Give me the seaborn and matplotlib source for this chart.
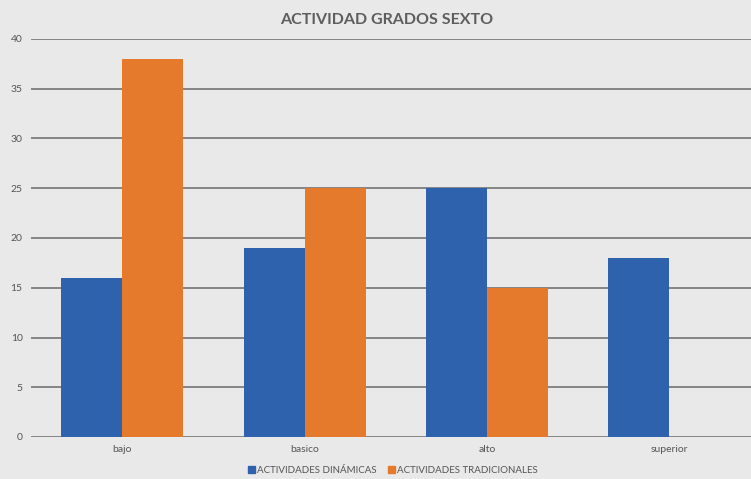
import numpy as np
import pandas as pd
import matplotlib
matplotlib.use("Agg")
import matplotlib.pyplot as plt
import seaborn as sns

categorias = ["bajo", "basico", "alto", "superior"]
dinamicas = [16, 19, 25, 18]
tradicionales = [38, 25, 15, 0]
series = ["ACTIVIDADES DINÁMICAS", "ACTIVIDADES TRADICIONALES"]
y_ticks = [0, 5, 10, 15, 20, 25, 30, 35, 40]

df = pd.DataFrame({
    "categoria": categorias * 2,
    "valor": dinamicas + tradicionales,
    "serie": [series[0]] * len(categorias) + [series[1]] * len(categorias),
})

sns.set_style("white")
plt.rcParams["font.family"] = ["Lato", "DejaVu Sans"]

bg = "#e9e9e9"
text_c = "#555555"
colors = {series[0]: "#2f62ad", series[1]: "#e57a2c"}

fig = plt.figure(figsize=(7.51, 4.79), dpi=100, facecolor=bg)
ax = fig.add_axes([31 / 751, 42 / 479, 720 / 751, 398 / 479])
ax.set_facecolor(bg)

sns.barplot(data=df, x="categoria", y="valor", hue="serie", palette=colors,
            width=0.67, dodge=True, ax=ax, legend=False, saturation=1,
            edgecolor="none", zorder=3)

ax.set_xlim(-0.5, 3.447)
ax.set_ylim(0, 40)
ax.set_yticks(y_ticks)
ax.set_yticklabels([str(v) for v in y_ticks], fontsize=7.5, color=text_c)
ax.set_xticks(range(len(categorias)))
ax.set_xticklabels(categorias, fontsize=7.5, color=text_c)
ax.tick_params(axis="both", length=0, pad=6)
ax.set_xlabel("")
ax.set_ylabel("")
for s in ax.spines.values():
    s.set_visible(False)
ax.yaxis.grid(True, color="#858585", linewidth=1.4, zorder=0)
ax.set_axisbelow(True)

fig.text(0.515, 0.958, "ACTIVIDAD GRADOS SEXTO", ha="center", va="center",
         fontsize=11.5, fontweight="bold", color="#5e5e5e")

handles = [plt.Rectangle((0, 0), 1, 1, color=colors[s]) for s in series]
fig.legend(handles, series, loc="center", bbox_to_anchor=(0.523, 0.018),
           ncol=2, frameon=False, fontsize=7, labelcolor=text_c,
           handlelength=0.7, handleheight=0.7, handletextpad=0.2,
           columnspacing=1.2)

fig.savefig("out.png", dpi=100, facecolor=bg)
